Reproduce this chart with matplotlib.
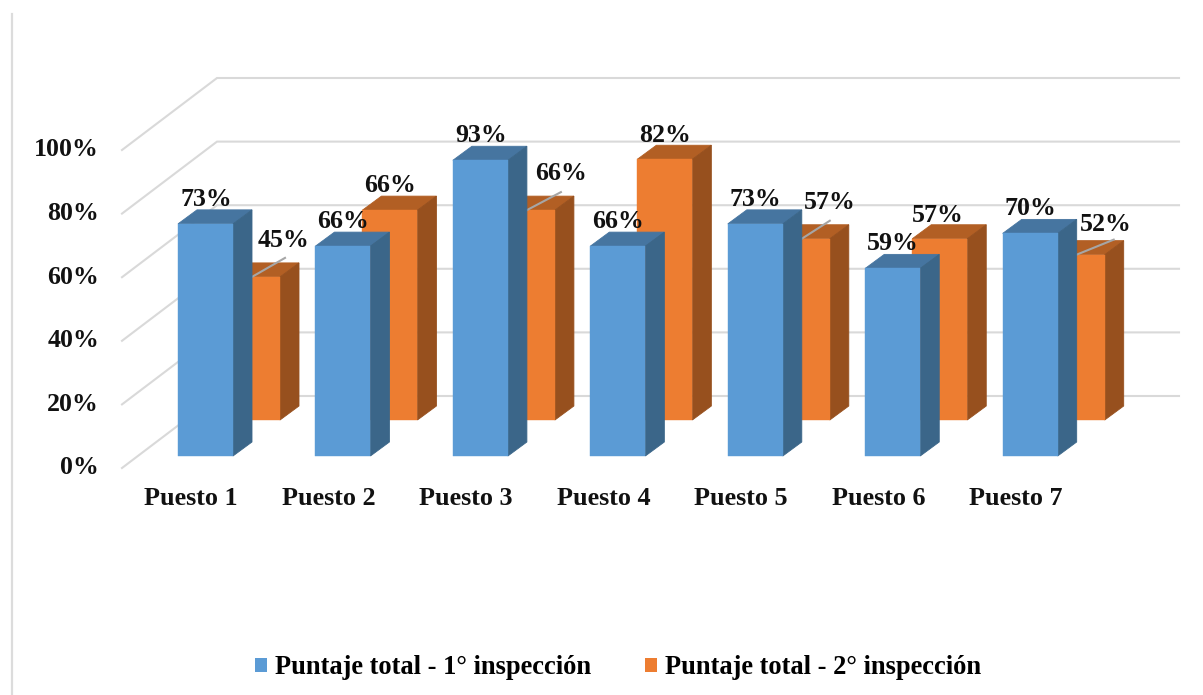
import matplotlib
matplotlib.use("Agg")
import matplotlib.pyplot as plt
from matplotlib.patches import Polygon, Patch
from matplotlib.lines import Line2D
from matplotlib.transforms import ScaledTranslation

categories = ["Puesto 1", "Puesto 2", "Puesto 3", "Puesto 4", "Puesto 5", "Puesto 6", "Puesto 7"]
first_inspection = [73, 66, 93, 66, 73, 59, 70]
second_inspection = [45, 66, 66, 82, 57, 57, 52]
y_ticks = [0, 20, 40, 60, 80, 100]
series_names = ["Puntaje total - 1° inspección", "Puntaje total - 2° inspección"]

W, H = 1203, 695
PX_X, PX_Y = 137.45, 3.18          # pixels per category, pixels per percent
X0_PX = 205.5                      # pixel of category 0 centre
BASE_PX = 456                      # pixel of value 0 on the front bar plane
AX_L, AX_R = 105, 1195
dx = lambda p: p / PX_X
dy = lambda p: p / PX_Y

plt.rcParams["font.family"] = ["Liberation Serif", "DejaVu Serif"]
fig = plt.figure(figsize=(W / 100, H / 100), dpi=100, facecolor="white")
ax = fig.add_axes([AX_L / W, (H - BASE_PX) / H, (AX_R - AX_L) / W, 100 * PX_Y / H])
ax.set_xlim((AX_L - X0_PX) / PX_X, (AX_R - X0_PX) / PX_X)
ax.set_ylim(0, 100)
for s in ax.spines.values():
    s.set_visible(False)

GRID = "#d9d9d9"
BAR_W = dx(55)
SIDE_X, SIDE_Y = dx(19), dy(14)
OR_X, OR_Y = dx(47), dy(36)
BLUE = ("#5b9bd5", "#3b6689", "#4675a0")
ORANGE = ("#ed7d31", "#97501e", "#b25f24")

# walls / gridlines
front_x = dx(122 - X0_PX)
back_x = dx(217 - X0_PX)
end_x = dx(1179 - X0_PX)
for v in y_ticks:
    yf = v + dy(456 - 468)
    yb = v + dy(456 - 396)
    ax.plot([front_x, back_x, end_x], [yf, yb, yb], color=GRID, lw=1.5, zorder=1,
            clip_on=False, solid_joinstyle="miter")


def bar3d(xc, val, base, cols, z):
    l, r = xc - BAR_W / 2, xc + BAR_W / 2
    t = base + val
    ax.add_patch(Polygon([(l, t), (r, t), (r + SIDE_X, t + SIDE_Y), (l + SIDE_X, t + SIDE_Y)],
                         fc=cols[2], ec=cols[2], lw=0.6, zorder=z, clip_on=False))
    ax.add_patch(Polygon([(r, base), (r + SIDE_X, base + SIDE_Y), (r + SIDE_X, t + SIDE_Y), (r, t)],
                         fc=cols[1], ec=cols[1], lw=0.6, zorder=z + 0.1, clip_on=False))
    ax.bar(xc, val, BAR_W, bottom=base, color=cols[0], ec=cols[0], lw=0.3, zorder=z + 0.2, clip_on=False)


for i, v in enumerate(second_inspection):
    bar3d(i + OR_X, v, OR_Y, ORANGE, 2)
# leader lines for the moved labels: start at the blue bar side, end near the label
leaders = {0: (33, 19), 2: (34, 18), 4: (28, 18), 6: (37, 15)}
for i, (lx, ly) in leaders.items():
    x0 = i + dx(252 - X0_PX)
    y0 = OR_Y + second_inspection[i]
    ax.plot([x0, x0 + dx(lx)], [y0, y0 + dy(ly)], color="#a6a6a6", lw=1.5, zorder=3, clip_on=False)
for i, v in enumerate(first_inspection):
    bar3d(i, v, 0, BLUE, 4)

label_kw = dict(ha="center", va="center", fontsize=18.6, fontweight="bold", color="#111111",
                zorder=6, clip_on=False)
for i, v in enumerate(first_inspection):
    ax.text(i + dx(0.5), v + dy(24.5), f"{v}%", **label_kw)
or_off = [(31.5, 36.5), (0, 24.5), (33.5, 36.5), (0, 23.5), (27.5, 36.5), (-2, 23.5), (29, 30.5)]
for i, v in enumerate(second_inspection):
    ax.text(i + OR_X + dx(or_off[i][0]), OR_Y + v + dy(or_off[i][1]), f"{v}%", **label_kw)

ax.set_xticks([i - dx(14.5) for i in range(len(categories))])
ax.set_xticklabels(categories, fontsize=18.8, fontweight="bold", color="#111111")
ax.set_yticks(y_ticks)
ax.set_yticklabels([f"{v}%" for v in y_ticks], fontsize=18.6, fontweight="bold", color="#111111")
ax.tick_params(axis="both", length=0)
ax.tick_params(axis="x", pad=22)
ax.tick_params(axis="y", pad=4.4)
shift = ScaledTranslation(0, -0.095, fig.dpi_scale_trans)
for lab in ax.get_yticklabels():
    lab.set_transform(lab.get_transform() + shift)

handles = [Patch(fc=BLUE[0], lw=0), Patch(fc=ORANGE[0], lw=0)]
fig.legend(handles, series_names, loc="center", bbox_to_anchor=(618 / W, (H - 668) / H),
           ncol=2, frameon=False, prop=dict(size=19.1, weight="bold"),
           handlelength=0.46, handleheight=0.46, handletextpad=0.28, columnspacing=2.05)

fig.add_artist(Line2D([11.5 / W] * 2, [0, (H - 14) / H], color="#dcdcdc", lw=1.6))

fig.savefig("out.png", dpi=100)
